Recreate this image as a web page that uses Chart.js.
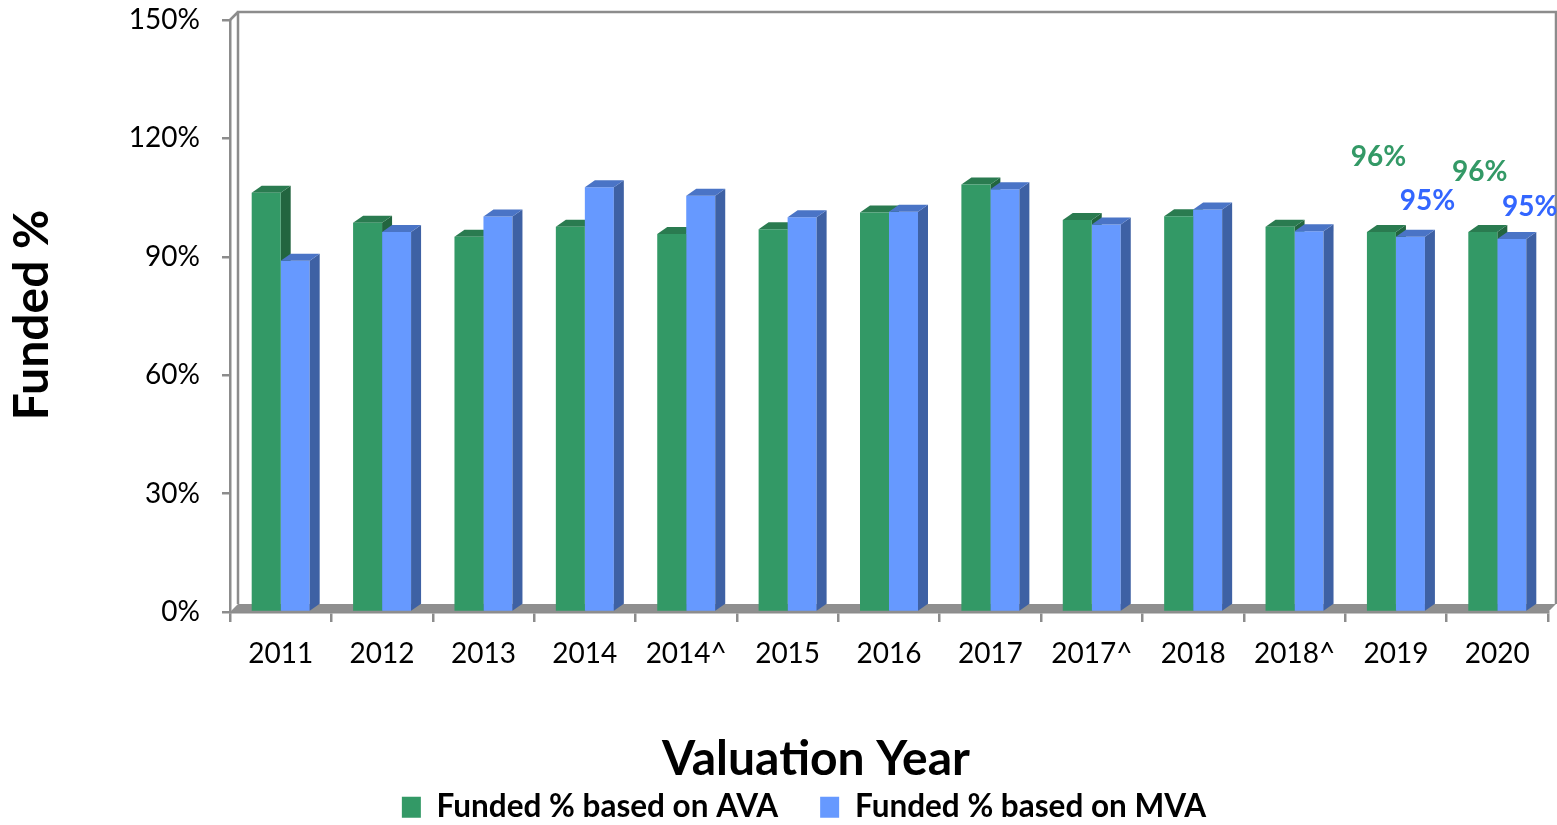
<!DOCTYPE html>
<html>
<head>
<meta charset="utf-8">
<script src="https://cdn.jsdelivr.net/npm/chart.js@4/dist/chart.umd.min.js"></script>
<style>
  html, body { margin: 0; padding: 0; background: #ffffff; }
  #wrap { width: 1557px; height: 825px; position: relative; }
</style>
</head>
<body>
<div id="wrap"><canvas id="c" width="1557" height="825"></canvas></div>
<script>
// ---- data ----
const categories = ['2011','2012','2013','2014','2014^','2015','2016','2017','2017^','2018','2018^','2019','2020'];
const avaValues = [106.2, 98.6, 95.1, 97.6, 95.8, 97.0, 101.2, 108.3, 99.3, 100.3, 97.6, 96.3, 96.3];
const mvaValues = [89.0, 96.3, 100.2, 107.6, 105.5, 100.0, 101.4, 107.1, 98.2, 102.0, 96.5, 95.1, 94.5];
const yTicks = [0, 30, 60, 90, 120, 150];
const seriesNames = ['Funded % based on AVA', 'Funded % based on MVA'];
const labelledCategories = ['2019', '2020'];
const labelTexts = [['96%', '96%'], ['95%', '95%']];

// ---- styles ----
const FONT = 'Lato, "Open Sans", sans-serif';
const front = ['#339966', '#6699ff'];
const topFace = ['#2a7b50', '#4a74c6'];
const sideFace = ['#22653f', '#3e61a4'];
const labelColor = ['#339966', '#3366ff'];
const GRAY = '#8c8c8c';
const BAR_DX = 10, BAR_DY = 7, WALL_D = 8;
// label offsets relative to bar front top-centre (dataset -> [2019, 2020])
const labelOffsets = [[{dx: -3, dy: -75}, {dx: -3, dy: -60}], [{dx: 17, dy: -36}, {dx: 18, dy: -32}]];

function drawFaces(ctx, meta, k) {
  meta.data.forEach(bar => {
    const {x, y, base, width} = bar.getProps(['x', 'y', 'base', 'width'], true);
    const l = x - width / 2, r = x + width / 2;
    ctx.fillStyle = sideFace[k];
    ctx.beginPath();
    ctx.moveTo(r, y);
    ctx.lineTo(r + BAR_DX, y - BAR_DY);
    ctx.lineTo(r + BAR_DX, base - BAR_DY);
    ctx.lineTo(r, base);
    ctx.closePath();
    ctx.fill();
    ctx.fillStyle = topFace[k];
    ctx.beginPath();
    ctx.moveTo(l, y);
    ctx.lineTo(r, y);
    ctx.lineTo(r + BAR_DX, y - BAR_DY);
    ctx.lineTo(l + BAR_DX, y - BAR_DY);
    ctx.closePath();
    ctx.fill();
  });
}

const threeD = {
  id: 'threeD',
  beforeDatasetsDraw(chart) {
    const {ctx, chartArea: a} = chart;
    ctx.save();
    // floor
    ctx.fillStyle = '#8f8f8f';
    ctx.beginPath();
    ctx.moveTo(a.left, a.bottom);
    ctx.lineTo(a.right, a.bottom);
    ctx.lineTo(a.right + WALL_D, a.bottom - WALL_D);
    ctx.lineTo(a.left + WALL_D, a.bottom - WALL_D);
    ctx.closePath();
    ctx.fill();
    // back wall frame
    ctx.strokeStyle = GRAY;
    ctx.lineWidth = 2.5;
    ctx.beginPath();
    ctx.moveTo(a.left + WALL_D, a.bottom - WALL_D);
    ctx.lineTo(a.left + WALL_D, a.top - WALL_D);
    ctx.lineTo(a.right + WALL_D, a.top - WALL_D);
    ctx.lineTo(a.right + WALL_D, a.bottom - WALL_D);
    ctx.moveTo(a.left, a.top);
    ctx.lineTo(a.left + WALL_D, a.top - WALL_D);
    ctx.stroke();
    // AVA side/top faces sit behind the MVA front faces: draw them first
    drawFaces(ctx, chart.getDatasetMeta(0), 0);
    ctx.restore();
  },
  afterDatasetDraw(chart, args) {
    if (args.index !== 1) return;
    const {ctx} = chart;
    ctx.save();
    drawFaces(ctx, args.meta, 1);
    ctx.restore();
  },
  afterDatasetsDraw(chart) {
    const {ctx} = chart;
    ctx.save();
    ctx.font = 'bold 28px ' + FONT;
    ctx.textAlign = 'center';
    ctx.textBaseline = 'middle';
    chart.data.datasets.forEach((ds, di) => {
      const meta = chart.getDatasetMeta(di);
      labelledCategories.forEach((cat, j) => {
        const idx = categories.indexOf(cat);
        const bar = meta.data[idx];
        const off = labelOffsets[di][j];
        ctx.fillStyle = labelColor[di];
        ctx.fillText(labelTexts[di][j], bar.x + off.dx, bar.y + off.dy);
      });
    });
    ctx.restore();
  },
  afterDraw(chart) {
    const {ctx} = chart;
    ctx.save();
    ctx.fillStyle = '#000';
    ctx.textAlign = 'center';
    ctx.textBaseline = 'middle';
    ctx.font = 'bold 48px ' + FONT;
    ctx.fillText('Valuation Year', 816, 760);
    ctx.translate(33, 315);
    ctx.rotate(-Math.PI / 2);
    ctx.font = 'bold 48px ' + FONT;
    ctx.fillText('Funded %', 0, 0);
    ctx.restore();
  }
};

new Chart(document.getElementById('c'), {
  type: 'bar',
  data: {
    labels: categories,
    datasets: [
      { label: seriesNames[0], data: avaValues, backgroundColor: front[0], borderWidth: 0,
        categoryPercentage: 0.572, barPercentage: 1.0 },
      { label: seriesNames[1], data: mvaValues, backgroundColor: front[1], borderWidth: 0,
        categoryPercentage: 0.572, barPercentage: 1.0 }
    ]
  },
  options: {
    responsive: false,
    devicePixelRatio: 1,
    animation: false,
    layout: { padding: { left: 60, right: 9, top: 20, bottom: -8 } },
    plugins: {
      legend: {
        position: 'bottom',
        labels: {
          color: '#000',
          font: { family: FONT, size: 31.5, weight: 'bold' },
          boxWidth: 19,
          boxHeight: 21,
          padding: 42
        }
      },
      tooltip: { enabled: false }
    },
    scales: {
      x: {
        afterFit(scale) { scale.height = 137.5; },
        grid: { display: true, drawOnChartArea: false, offset: true, tickLength: 10, color: GRAY, lineWidth: 2.5 },
        border: { display: true, color: GRAY, width: 2.5 },
        ticks: { color: '#000', font: { family: FONT, size: 28 }, padding: 15, maxRotation: 0, autoSkip: false }
      },
      y: {
        min: 0, max: 150,
        afterFit(scale) { scale.width = 170; scale.paddingTop = 0; scale.paddingBottom = 0; },
        afterBuildTicks(scale) { scale.ticks = yTicks.map(v => ({ value: v })); },
        grid: { display: true, drawOnChartArea: false, tickLength: 8, color: GRAY, lineWidth: 2.5 },
        border: { display: true, color: GRAY, width: 2.5 },
        ticks: { color: '#000', font: { family: FONT, size: 28 }, padding: 22, callback: v => v + '%' }
      }
    }
  },
  plugins: [threeD]
});
</script>
</body>
</html>
